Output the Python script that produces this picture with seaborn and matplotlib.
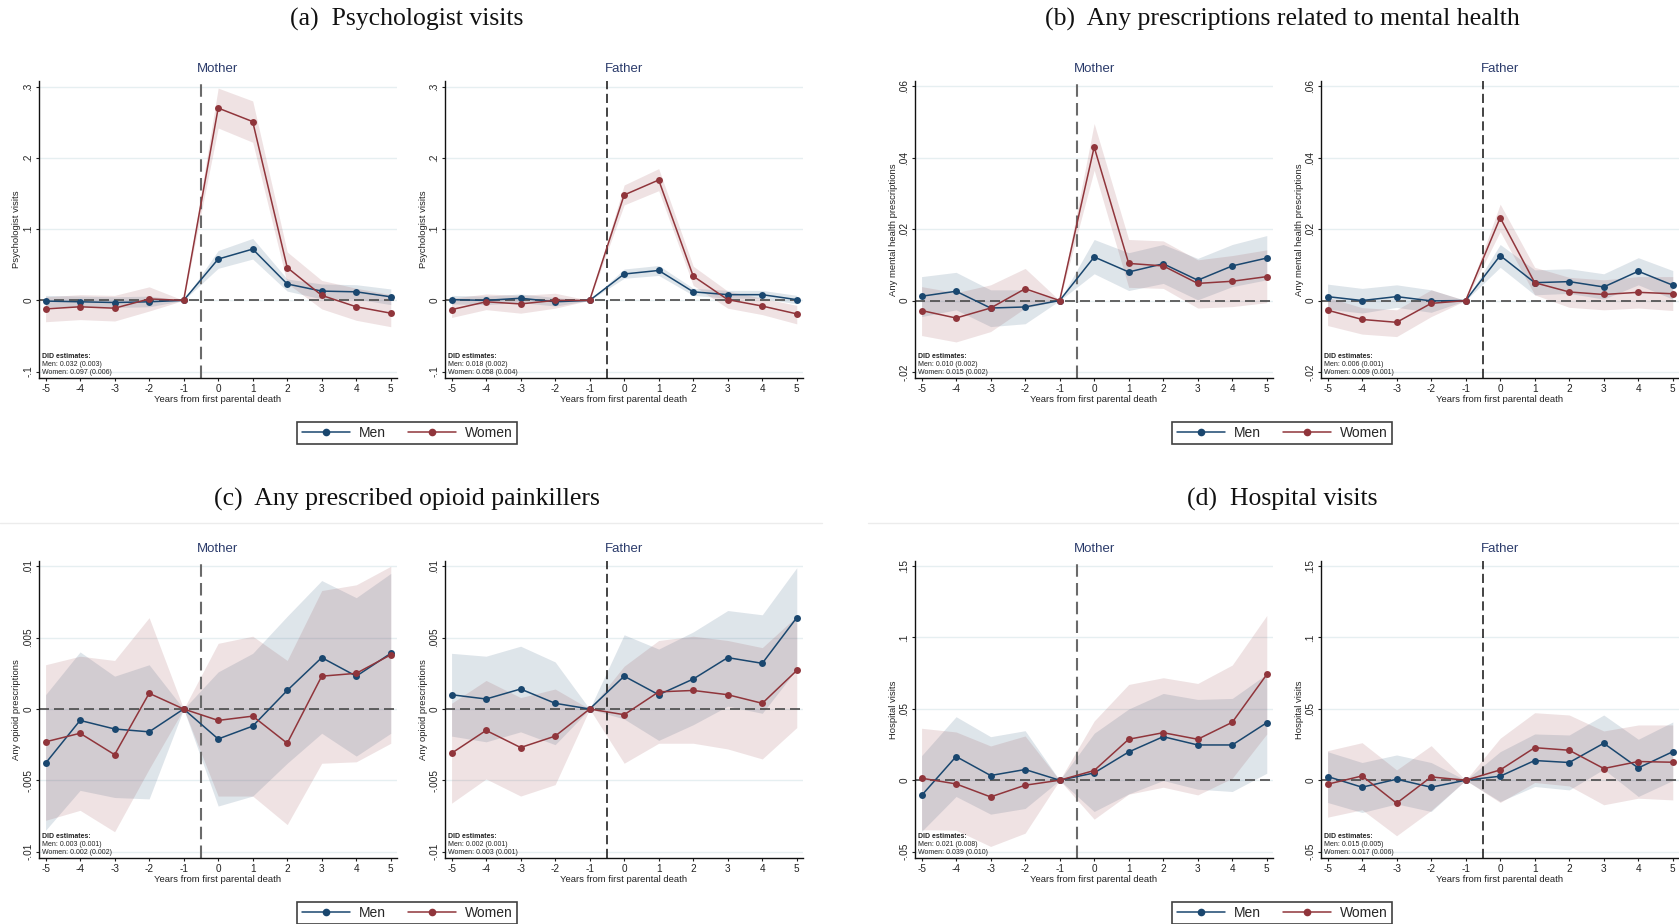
import numpy as np
import pandas as pd
import matplotlib
matplotlib.use("Agg")
import matplotlib.pyplot as plt
from matplotlib.lines import Line2D
import seaborn as sns

sns.set_theme(style="white")
plt.rcParams['font.family'] = ['Liberation Sans', 'DejaVu Sans']

# ---------------- data ----------------
years = [-5, -4, -3, -2, -1, 0, 1, 2, 3, 4, 5]

# (a) Psychologist visits
psy_mo_men    = [-0.001, -0.002, -0.003, -0.002, 0, 0.058, 0.072, 0.023, 0.013, 0.012, 0.005]
psy_mo_men_lo = [-0.009, -0.009, -0.010, -0.009, 0, 0.045, 0.058, 0.013, 0.002, 0.002, -0.006]
psy_mo_men_hi = [0.007, 0.006, 0.005, 0.006, 0, 0.070, 0.087, 0.030, 0.023, 0.022, 0.016]
psy_mo_wom    = [-0.012, -0.009, -0.011, 0.002, 0, 0.270, 0.251, 0.046, 0.007, -0.009, -0.018]
psy_mo_wom_lo = [-0.030, -0.027, -0.029, -0.015, 0, 0.242, 0.222, 0.024, -0.012, -0.028, -0.037]
psy_mo_wom_hi = [0.005, 0.008, 0.007, 0.019, 0, 0.298, 0.280, 0.068, 0.028, 0.017, 0.008]

psy_fa_men    = [0.001, 0.000, 0.003, -0.002, 0, 0.037, 0.042, 0.012, 0.008, 0.008, 0.001]
psy_fa_men_lo = [-0.005, -0.006, -0.003, -0.008, 0, 0.031, 0.035, 0.007, 0.003, 0.003, -0.005]
psy_fa_men_hi = [0.007, 0.006, 0.009, 0.004, 0, 0.044, 0.049, 0.017, 0.014, 0.014, 0.007]
psy_fa_wom    = [-0.013, -0.002, -0.005, 0.000, 0, 0.148, 0.169, 0.034, 0.001, -0.008, -0.019]
psy_fa_wom_lo = [-0.024, -0.013, -0.018, -0.011, 0, 0.134, 0.154, 0.021, -0.011, -0.020, -0.033]
psy_fa_wom_hi = [0.003, 0.009, 0.007, 0.010, 0, 0.162, 0.185, 0.048, 0.013, 0.003, -0.007]

# (b) Any prescriptions related to mental health
mh_mo_men    = [0.0012, 0.0026, -0.0021, -0.0018, 0, 0.0122, 0.0080, 0.0103, 0.0057, 0.0097, 0.0119]
mh_mo_men_lo = [-0.0045, -0.0026, -0.0073, -0.0065, 0, 0.0075, 0.0028, 0.0048, 0.0002, 0.0039, 0.0058]
mh_mo_men_hi = [0.0067, 0.0079, 0.0030, 0.0030, 0, 0.0171, 0.0134, 0.0157, 0.0118, 0.0157, 0.0182]
mh_mo_wom    = [-0.0028, -0.0049, -0.0021, 0.0033, 0, 0.0430, 0.0104, 0.0097, 0.0048, 0.0054, 0.0067]
mh_mo_wom_lo = [-0.0098, -0.0116, -0.0087, -0.0021, 0, 0.0365, 0.0037, 0.0034, -0.0021, -0.0017, -0.0006]
mh_mo_wom_hi = [0.0039, 0.0022, 0.0044, 0.0090, 0, 0.0496, 0.0171, 0.0167, 0.0114, 0.0126, 0.0142]

mh_fa_men    = [0.0011, 0.0000, 0.0011, -0.0001, 0, 0.0126, 0.0050, 0.0053, 0.0038, 0.0082, 0.0043]
mh_fa_men_lo = [-0.0024, -0.0035, -0.0019, -0.0033, 0, 0.0093, 0.0016, 0.0020, 0.0004, 0.0044, 0.0004]
mh_fa_men_hi = [0.0046, 0.0034, 0.0044, 0.0030, 0, 0.0157, 0.0086, 0.0089, 0.0075, 0.0120, 0.0084]
mh_fa_wom    = [-0.0027, -0.0053, -0.0061, -0.0008, 0, 0.0232, 0.0050, 0.0024, 0.0017, 0.0023, 0.0019]
mh_fa_wom_lo = [-0.0070, -0.0094, -0.0101, -0.0045, 0, 0.0193, 0.0016, -0.0019, -0.0026, -0.0021, -0.0028]
mh_fa_wom_hi = [0.0009, -0.0020, -0.0026, 0.0030, 0, 0.0270, 0.0093, 0.0065, 0.0058, 0.0067, 0.0067]

# (c) Any prescribed opioid painkillers
op_mo_men    = [-0.0038, -0.0008, -0.0014, -0.0016, 0, -0.0021, -0.0012, 0.0013, 0.0036, 0.0023, 0.0039]
op_mo_men_lo = [-0.0085, -0.0057, -0.0062, -0.0063, 0, -0.0068, -0.0061, -0.0038, -0.0017, -0.0033, -0.0017]
op_mo_men_hi = [0.0010, 0.0040, 0.0023, 0.0031, 0, 0.0026, 0.0039, 0.0065, 0.0090, 0.0078, 0.0095]
op_mo_wom    = [-0.0023, -0.0017, -0.0032, 0.0011, 0, -0.0008, -0.0005, -0.0024, 0.0023, 0.0025, 0.0038]
op_mo_wom_lo = [-0.0078, -0.0071, -0.0086, -0.0042, 0, -0.0061, -0.0061, -0.0081, -0.0038, -0.0037, -0.0024]
op_mo_wom_hi = [0.0031, 0.0037, 0.0034, 0.0064, 0, 0.0046, 0.0051, 0.0034, 0.0083, 0.0087, 0.0100]

op_fa_men    = [0.0010, 0.0007, 0.0014, 0.0004, 0, 0.0023, 0.0010, 0.0021, 0.0036, 0.0032, 0.0064]
op_fa_men_lo = [-0.0019, -0.0023, -0.0016, -0.0025, 0, -0.0007, -0.0022, -0.0011, 0.0002, -0.0003, 0.0028]
op_fa_men_hi = [0.0039, 0.0037, 0.0044, 0.0033, 0, 0.0052, 0.0042, 0.0054, 0.0069, 0.0066, 0.0099]
op_fa_wom    = [-0.0031, -0.0015, -0.0027, -0.0019, 0, -0.0004, 0.0012, 0.0013, 0.0010, 0.0004, 0.0027]
op_fa_wom_lo = [-0.0066, -0.0049, -0.0061, -0.0053, 0, -0.0038, -0.0024, -0.0024, -0.0028, -0.0035, -0.0013]
op_fa_wom_hi = [0.0004, 0.0020, 0.0008, 0.0014, 0, 0.0030, 0.0048, 0.0051, 0.0048, 0.0043, 0.0065]

# (d) Hospital visits
ho_mo_men    = [-0.0107, 0.0166, 0.0033, 0.0075, 0, 0.0051, 0.0198, 0.0305, 0.0247, 0.0247, 0.0403]
ho_mo_men_lo = [-0.0359, -0.0114, -0.0238, -0.0198, 0, -0.0219, -0.0096, -0.0002, -0.0063, -0.0079, 0.0049]
ho_mo_men_hi = [0.0172, 0.0445, 0.0305, 0.0347, 0, 0.0329, 0.0499, 0.0608, 0.0566, 0.0573, 0.0744]
ho_mo_wom    = [0.0014, -0.0026, -0.0117, -0.0035, 0, 0.0068, 0.0287, 0.0333, 0.0287, 0.0406, 0.0741]
ho_mo_wom_lo = [-0.0347, -0.0350, -0.0464, -0.0371, 0, -0.0273, -0.0098, -0.0049, -0.0103, 0.0014, 0.0324]
ho_mo_wom_hi = [0.0364, 0.0338, 0.0240, 0.0310, 0, 0.0415, 0.0671, 0.0718, 0.0678, 0.0807, 0.1154]

ho_fa_men    = [0.0026, -0.0049, 0.0007, -0.0049, 0, 0.0028, 0.0138, 0.0124, 0.0259, 0.0086, 0.0200]
ho_fa_men_lo = [-0.0156, -0.0226, -0.0166, -0.0219, 0, -0.0149, -0.0044, -0.0068, 0.0077, -0.0114, -0.0002]
ho_fa_men_hi = [0.0200, 0.0124, 0.0177, 0.0124, 0, 0.0200, 0.0324, 0.0317, 0.0457, 0.0287, 0.0408]
ho_fa_wom    = [-0.0028, 0.0030, -0.0161, 0.0023, 0, 0.0072, 0.0228, 0.0210, 0.0082, 0.0131, 0.0126]
ho_fa_wom_lo = [-0.0259, -0.0207, -0.0389, -0.0212, 0, -0.0156, -0.0016, -0.0040, -0.0172, -0.0126, -0.0138]
ho_fa_wom_hi = [0.0207, 0.0263, 0.0072, 0.0242, 0, 0.0294, 0.0473, 0.0457, 0.0345, 0.0387, 0.0387]

panel_titles = ["(a)  Psychologist visits",
                "(b)  Any prescriptions related to mental health",
                "(c)  Any prescribed opioid painkillers",
                "(d)  Hospital visits"]
y_labels = ["Psychologist visits", "Any mental health prescriptions",
            "Any opioid prescriptions", "Hospital visits"]
y_ticks = [[-0.1, 0, 0.1, 0.2, 0.3],
           [-0.02, 0, 0.02, 0.04, 0.06],
           [-0.01, -0.005, 0, 0.005, 0.01],
           [-0.05, 0, 0.05, 0.1, 0.15]]
y_ticklabels = [["-.1", "0", ".1", ".2", ".3"],
                ["-.02", "0", ".02", ".04", ".06"],
                ["-.01", "-.005", "0", ".005", ".01"],
                ["-.05", "0", ".05", ".1", ".15"]]
y_limits = [(-0.109, 0.308), (-0.0217, 0.0615), (-0.01044, 0.01037), (-0.0545, 0.1536)]
parents = ["Mother", "Father"]
did_men = [["Men: 0.032 (0.003)", "Men: 0.018 (0.002)"],
           ["Men: 0.010 (0.002)", "Men: 0.006 (0.001)"],
           ["Men: 0.003 (0.001)", "Men: 0.002 (0.001)"],
           ["Men: 0.021 (0.008)", "Men: 0.015 (0.005)"]]
did_wom = [["Women: 0.097 (0.006)", "Women: 0.058 (0.004)"],
           ["Women: 0.015 (0.002)", "Women: 0.009 (0.001)"],
           ["Women: 0.002 (0.002)", "Women: 0.003 (0.001)"],
           ["Women: 0.039 (0.010)", "Women: 0.017 (0.006)"]]

series = [
    [(psy_mo_men, psy_mo_men_lo, psy_mo_men_hi, psy_mo_wom, psy_mo_wom_lo, psy_mo_wom_hi),
     (psy_fa_men, psy_fa_men_lo, psy_fa_men_hi, psy_fa_wom, psy_fa_wom_lo, psy_fa_wom_hi)],
    [(mh_mo_men, mh_mo_men_lo, mh_mo_men_hi, mh_mo_wom, mh_mo_wom_lo, mh_mo_wom_hi),
     (mh_fa_men, mh_fa_men_lo, mh_fa_men_hi, mh_fa_wom, mh_fa_wom_lo, mh_fa_wom_hi)],
    [(op_mo_men, op_mo_men_lo, op_mo_men_hi, op_mo_wom, op_mo_wom_lo, op_mo_wom_hi),
     (op_fa_men, op_fa_men_lo, op_fa_men_hi, op_fa_wom, op_fa_wom_lo, op_fa_wom_hi)],
    [(ho_mo_men, ho_mo_men_lo, ho_mo_men_hi, ho_mo_wom, ho_mo_wom_lo, ho_mo_wom_hi),
     (ho_fa_men, ho_fa_men_lo, ho_fa_men_hi, ho_fa_wom, ho_fa_wom_lo, ho_fa_wom_hi)],
]

# ---------------- style ----------------
NAVY = "#1a476f"
MAROON = "#90353b"
TITLE_BLUE = "#2b3b6b"
GRID = "#e6eff1"
W, H = 1679, 924

fig = plt.figure(figsize=(W / 100, H / 100), dpi=100)
fig.patch.set_facecolor("white")

ax_w, ax_h = 358, 297
col_left = [[39, 445], [915, 1321]]
row_top = [81, 561]
title_x = [407, 1282]
title_y = [19, 499]
legend_y = [433, 913]


def fx(px):
    return px / W


def fy(py):
    return 1 - py / H


for p in range(4):
    r, c = p // 2, p % 2
    fig.text(fx(title_x[c]), fy(title_y[r]), panel_titles[p], ha="center", va="center",
             fontsize=18.5, family=["Liberation Serif", "DejaVu Serif"], color="#111111")
    for k in range(2):
        left = col_left[c][k]
        top = row_top[r]
        ax = fig.add_axes([fx(left), fy(top + ax_h), ax_w / W, ax_h / H])
        men, men_lo, men_hi, wom, wom_lo, wom_hi = series[p][k]

        df = pd.DataFrame({
            "year": years * 2,
            "est": list(men) + list(wom),
            "sex": ["Men"] * len(years) + ["Women"] * len(years),
        })
        ax.fill_between(years, men_lo, men_hi, color=NAVY, alpha=0.14, lw=0, zorder=1)
        ax.fill_between(years, wom_lo, wom_hi, color=MAROON, alpha=0.14, lw=0, zorder=1)

        for t in y_ticks[p]:
            ax.axhline(t, color=GRID, lw=1.0, zorder=0)
        ax.axhline(0, color="#4a4a4a", lw=1.2, ls=(0, (6, 3)), zorder=2)
        if k == 0:
            ax.axvline(-0.5, color="#6a6a6a", lw=1.5, ls=(0, (6, 3)), zorder=2)
        else:
            ax.axvline(-0.5, color="#111111", lw=1.1, ls=(0, (6, 3)), zorder=2)

        sns.lineplot(data=df, x="year", y="est", hue="sex", hue_order=["Men", "Women"],
                     palette={"Men": NAVY, "Women": MAROON}, marker="o", markersize=5,
                     markeredgewidth=0, linewidth=1.1, legend=False, errorbar=None,
                     ax=ax, zorder=3)

        ax.set_xlim(-5.19, 5.18)
        ax.set_ylim(*y_limits[p])
        ax.set_xticks(years)
        ax.set_xticklabels([str(y) for y in years])
        ax.set_yticks(y_ticks[p])
        ax.set_yticklabels(y_ticklabels[p], rotation=90, va="center")
        ax.tick_params(axis="both", which="both", direction="out", length=2.5, width=0.8,
                       pad=1.5, labelsize=7.2, colors="#222222", left=True, bottom=True)
        for s in ["top", "right"]:
            ax.spines[s].set_visible(False)
        for s in ["left", "bottom"]:
            ax.spines[s].set_color("#111111")
            ax.spines[s].set_linewidth(1.0)
        ax.set_facecolor("white")
        ax.grid(False)

        ax.set_xlabel("Years from first parental death", fontsize=6.8, color="#222222")
        ax.xaxis.label.set_va("center")
        ax.xaxis.set_label_coords(0.5, -21 / ax_h)
        ax.set_ylabel(y_labels[p], fontsize=6.8, color="#222222")
        ax.yaxis.label.set_va("center")
        ax.yaxis.set_label_coords(-22 / ax_w, 0.5)

        ax.text(0.5, 1 + 12 / ax_h, parents[k], transform=ax.transAxes, ha="center",
                va="center", fontsize=9.5, color=TITLE_BLUE)

        x0 = 2.5 / ax_w
        ax.text(x0, 22 / ax_h, "DID estimates:", transform=ax.transAxes, ha="left",
                va="center", fontsize=5, fontweight="bold", color="#222222")
        ax.text(x0, 14 / ax_h, did_men[p][k], transform=ax.transAxes, ha="left",
                va="center", fontsize=5, color="#222222")
        ax.text(x0, 6 / ax_h, did_wom[p][k], transform=ax.transAxes, ha="left",
                va="center", fontsize=5, color="#222222")

    handles = [Line2D([], [], color=NAVY, marker="o", markersize=5.5, markeredgewidth=0, lw=1.1),
               Line2D([], [], color=MAROON, marker="o", markersize=5.5, markeredgewidth=0, lw=1.1)]
    leg = fig.legend(handles, ["Men", "Women"], loc="center",
                     bbox_to_anchor=(fx(title_x[c]), fy(legend_y[r])), ncol=2,
                     fontsize=10, frameon=True, fancybox=False, edgecolor="#111111",
                     handlelength=3.5, handletextpad=0.6, columnspacing=1.6,
                     borderpad=0.3, borderaxespad=0)
    leg.get_frame().set_linewidth(1.2)

# faint separator lines at top of lower panels
for (x0p, x1p) in [(0, 822), (868, 1679)]:
    fig.add_artist(Line2D([fx(x0p), fx(x1p)], [fy(523), fy(523)], color="#ececec", lw=1.0))

fig.savefig("out.png", dpi=100, facecolor="white")
